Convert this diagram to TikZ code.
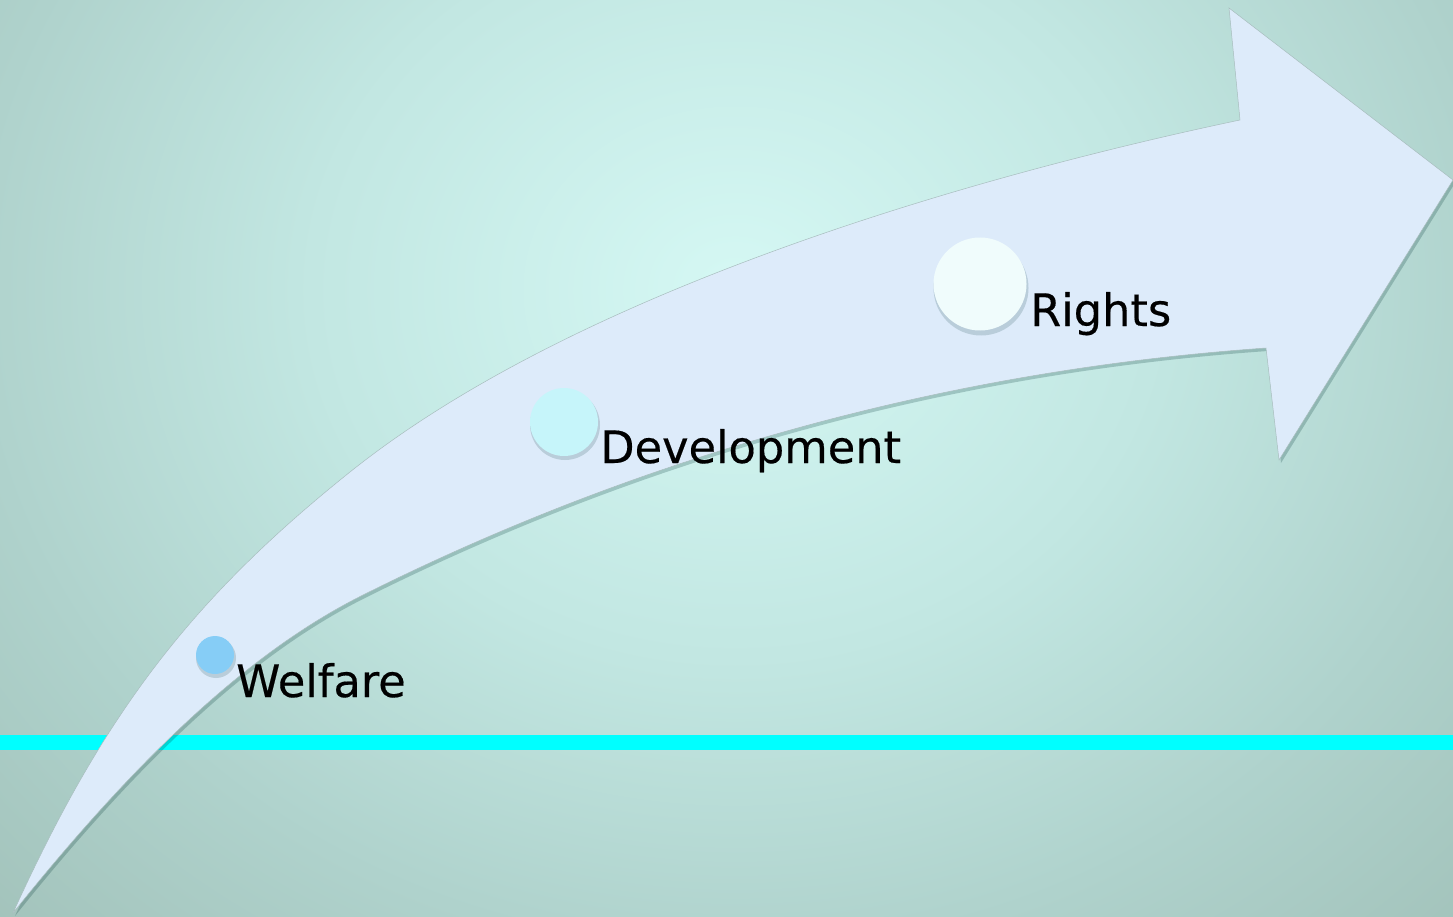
\documentclass[tikz,border=0pt]{standalone}
\usepackage{fontspec}
\setmainfont{DejaVu Sans}[FakeBold=0.35]
\usetikzlibrary{calc}
\definecolor{bgc0}{HTML}{D5F8F4}
\definecolor{bgc1}{HTML}{C2E7E2}
\definecolor{bgc2}{HTML}{AFD2CC}
\definecolor{bgc3}{HTML}{A2C2BA}
\definecolor{arrowfill}{HTML}{DDEBFA}
\definecolor{arrowedge}{HTML}{A7BDBD}
\definecolor{cyanline}{HTML}{00FFFF}
\definecolor{welfarec}{HTML}{86CDF6}
\definecolor{devc}{HTML}{C6F5FA}
\definecolor{rightsc}{HTML}{F0FCFC}
\pgfdeclareradialshading{bgshade}{\pgfpoint{0bp}{0bp}}{color(0bp)=(bgc0); color(10bp)=(bgc1); color(18bp)=(bgc2); color(25bp)=(bgc3); color(50bp)=(bgc3)}
\tikzset{
  dotc/.style={circle, inner sep=0pt, draw=none},
  dotshadow/.style={circle, inner sep=0pt, draw=none, fill=black!60!teal, opacity=0.16},
  lbl/.style={anchor=base west, inner sep=0pt, font=\fontsize{44.7}{52}\selectfont, text=black}
}
\newcommand{\arrowoutline}{%
  (13,913) .. controls (103,715) and (190,600) .. (350,472)
  .. controls (570,296) and (950,181) .. (1240,120)
  -- (1229,8) -- (1453,180) -- (1279,460) -- (1266,348)
  .. controls (946,370.4) and (642,455.5) .. (363,595)
  .. controls (263,645) and (153,738) .. (13,913)
  -- cycle}
\begin{document}
\begin{tikzpicture}[x=1pt,y=-1pt]
\useasboundingbox (0,0) rectangle (1453,917);
% background
\begin{scope}
\clip (0,0) rectangle (1453,917);
\shade[shading=bgshade] (735,290) ellipse[x radius=1060, y radius=920];
\end{scope}
% cyan horizon line
\fill[cyanline] (0,735) rectangle (1453,750);
% arrow shadow
\fill[black!60!teal, opacity=0.22, shift={(2,3)}] \arrowoutline;
% arrow
\filldraw[fill=arrowfill, draw=arrowedge, line width=0.5pt, line join=miter] \arrowoutline;
% circles with soft shadows
\node[dotshadow, minimum size=40pt] (wsh) at (216,658) {};
\node[dotc, minimum size=38pt, fill=welfarec] (wdot) at (215,655) {};
\node[dotshadow, minimum size=70pt] (dsh) at (565,425) {};
\node[dotc, minimum size=68pt, fill=devc] (ddot) at (564,422) {};
\node[dotshadow, minimum size=95pt] (rsh) at (981,288) {};
\node[dotc, minimum size=93pt, fill=rightsc] (rdot) at (980,284) {};
% labels
\node[lbl] (wlab) at (236,697) {Welfare};
\node[lbl] (dlab) at (600,463) {Development};
\node[lbl] (rlab) at (1030,326) {Rights};
\end{tikzpicture}
\end{document}
